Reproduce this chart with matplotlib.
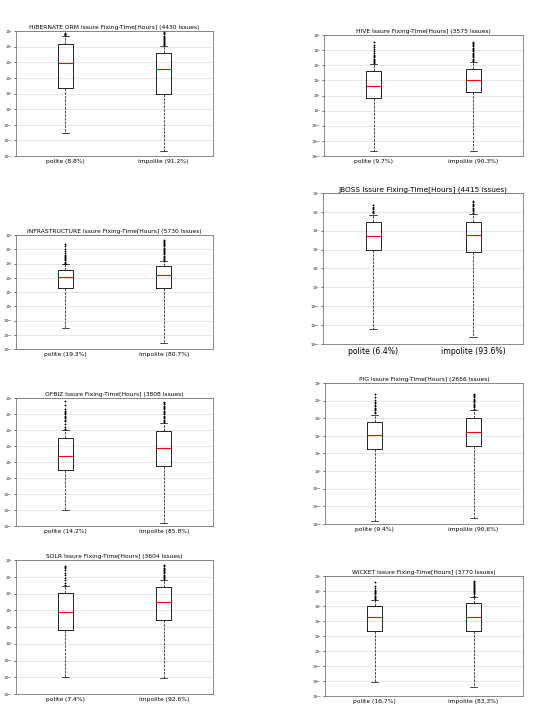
import matplotlib.pyplot as plt

projects = ['HIBERNATE ORM', 'HIVE', 'INFRASTRUCTURE', 'JBOSS', 'OFBIZ', 'PIG', 'SOLR', 'WICKET']
issues = [4430, 3575, 5730, 4415, 3808, 2656, 3604, 3770]
polite_pct = [8.8, 9.7, 19.3, 6.4, 14.2, 9.4, 7.4, 16.7]
impolite_pct = [91.2, 90.3, 80.7, 93.6, 85.8, 90.6, 92.6, 83.3]

# log10(hours): low whisker, q1, median, q3, high whisker
polite_stats = [
    [-1.55, 1.38, 2.93, 4.19, 4.66],
    [-2.64, 0.81, 1.65, 2.64, 3.08],
    [-1.50, 1.25, 2.06, 2.55, 2.93],
    [-2.23, 2.00, 2.70, 3.44, 3.86],
    [-2.02, 0.52, 1.38, 2.53, 2.97],
    [-2.85, 1.25, 2.03, 2.76, 3.21],
    [-1.99, 0.80, 1.88, 3.01, 3.43],
    [-2.04, 1.33, 2.24, 3.02, 3.40],
]
impolite_stats = [
    [-2.68, 1.00, 2.55, 3.61, 4.02],
    [-2.64, 1.21, 2.05, 2.78, 3.22],
    [-2.58, 1.25, 2.18, 2.81, 3.18],
    [-2.61, 1.88, 2.79, 3.49, 3.89],
    [-2.79, 0.77, 1.86, 2.91, 3.43],
    [-2.66, 1.40, 2.20, 3.04, 3.49],
    [-2.02, 1.40, 2.47, 3.37, 3.79],
    [-2.42, 1.33, 2.26, 3.22, 3.57],
]
# log10(hours) of outliers
polite_fliers = [
    [4.72, 4.78, 4.84, 4.9],
    [3.12, 3.2, 3.28, 3.36, 3.44, 3.52, 3.6, 3.7, 3.8, 3.92, 4.05, 4.2, 4.35, 4.55],
    [2.98, 3.06, 3.14, 3.22, 3.3, 3.38, 3.46, 3.54, 3.62, 3.72, 3.85, 4.0, 4.2, 4.4],
    [3.92, 3.99, 4.06, 4.13, 4.2, 4.28, 4.39],
    [3.05, 3.2, 3.4, 3.55, 3.65, 3.73, 3.81, 3.89, 3.97, 4.05, 4.13, 4.21, 4.3, 4.55, 4.8],
    [3.28, 3.36, 3.44, 3.52, 3.6, 3.68, 3.76, 3.85, 3.95, 4.05, 4.2, 4.36],
    [3.5, 3.65, 3.8, 3.95, 4.1, 4.25, 4.4, 4.55, 4.6, 4.66],
    [3.45, 3.53, 3.61, 3.69, 3.77, 3.85, 3.93, 4.01, 4.1, 4.2, 4.35, 4.58],
]
impolite_fliers = [
    [4.08, 4.15, 4.22, 4.29, 4.36, 4.43, 4.5, 4.57, 4.64, 4.71, 4.78, 4.85, 4.92, 4.98],
    [3.28, 3.36, 3.44, 3.52, 3.6, 3.68, 3.76, 3.84, 3.92, 4.0, 4.08, 4.16, 4.24, 4.32, 4.4, 4.48, 4.56],
    [3.24, 3.32, 3.4, 3.48, 3.56, 3.64, 3.72, 3.8, 3.88, 3.96, 4.04, 4.12, 4.2, 4.28, 4.36, 4.44, 4.52, 4.6, 4.66],
    [3.95, 4.02, 4.09, 4.16, 4.23, 4.3, 4.37, 4.44, 4.51, 4.58],
    [3.49, 3.57, 3.65, 3.73, 3.81, 3.89, 3.97, 4.05, 4.13, 4.21, 4.29, 4.37, 4.45, 4.53, 4.61, 4.69, 4.75],
    [3.55, 3.62, 3.69, 3.76, 3.83, 3.9, 3.97, 4.04, 4.11, 4.18, 4.25, 4.32, 4.4],
    [3.85, 3.92, 3.99, 4.06, 4.13, 4.2, 4.27, 4.34, 4.41, 4.48, 4.55, 4.62, 4.7],
    [3.63, 3.7, 3.77, 3.84, 3.91, 3.98, 4.05, 4.12, 4.19, 4.26, 4.33, 4.4, 4.47, 4.54, 4.61, 4.67],
]

# axes boxes in pixels: left, right, top, bottom
W, H = 535, 707
boxes = [
    (16, 213, 31, 156), (324, 523, 35, 156),
    (16, 213, 235, 349), (323, 523, 193, 344),
    (16, 213, 398, 526), (325, 523, 383, 524),
    (16, 213, 560, 694), (325, 523, 576, 696),
]


def make_stats(s, fl, label):
    return {'whislo': 10 ** s[0], 'q1': 10 ** s[1], 'med': 10 ** s[2],
            'q3': 10 ** s[3], 'whishi': 10 ** s[4],
            'fliers': [10 ** v for v in fl], 'label': label}


fig = plt.figure(figsize=(W / 100, H / 100), dpi=100)

for i, name in enumerate(projects):
    l, r, t, b = boxes[i]
    ax = fig.add_axes([l / W, 1 - b / H, (r - l) / W, (b - t) / H])
    big = name == 'JBOSS'
    stats = [
        make_stats(polite_stats[i], polite_fliers[i], 'polite (%.1f%%)' % polite_pct[i]),
        make_stats(impolite_stats[i], impolite_fliers[i], 'impolite (%.1f%%)' % impolite_pct[i]),
    ]
    ax.bxp(stats, widths=0.15, showfliers=True,
           boxprops=dict(color='black', linewidth=0.6),
           whiskerprops=dict(color='black', linewidth=0.5, linestyle='--'),
           capprops=dict(color='black', linewidth=0.5),
           medianprops=dict(color='red', linewidth=0.8),
           flierprops=dict(marker='+', markersize=1.8, markeredgecolor='black',
                           markeredgewidth=0.6))
    ax.set_yscale('log')
    ax.set_ylim(1e-3, 1e5)
    ax.set_xlim(0.5, 2.5)
    ax.set_yticks([10.0 ** k for k in range(-3, 6)])
    ax.minorticks_off()
    ax.yaxis.grid(True, color='#dddddd', linewidth=0.5)
    ax.set_axisbelow(True)
    ax.tick_params(axis='y', labelsize=2.5, length=1.5, width=0.4, pad=1)
    ax.tick_params(axis='x', labelsize=5.6 if big else 4.3, length=0, pad=2)
    for sp in ax.spines.values():
        sp.set_color('#777777')
        sp.set_linewidth(0.6)
    ax.set_title('%s Issure Fixing-Time[Hours] (%d Issues)' % (name, issues[i]),
                 fontsize=5.3 if big else 4.3, pad=1.5)

fig.savefig('out.png', dpi=100)
